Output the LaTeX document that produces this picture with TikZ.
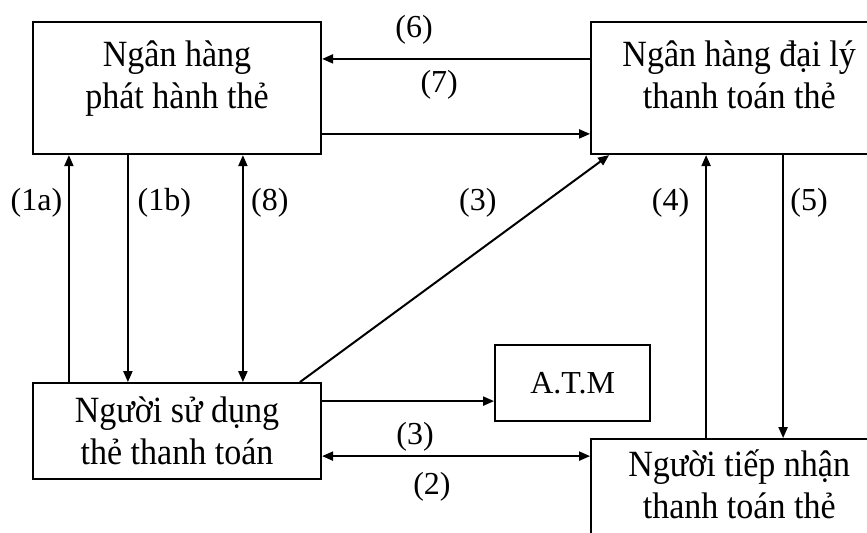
\documentclass[tikz,border=0pt]{standalone}
\usepackage{fontspec}
\setmainfont{Liberation Serif}
\newfontfamily\boxfont[FakeStretch=0.92]{Liberation Serif}
\usetikzlibrary{arrows.meta,positioning}

\newcommand{\lowgap}[1]{\rule[-#1]{0pt}{0pt}}
\setlength{\lineskiplimit}{-20pt}

\begin{document}
\begin{tikzpicture}[x=0.5pt,y=-0.5pt,>={Triangle[length=5.5pt,width=4.5pt]},font=\fontsize{16}{20.5}\selectfont]
	\tikzstyle{box}=[draw, line width=1.1pt, align=center, inner sep=0pt, font=\boxfont\fontsize{18.5}{21}\selectfont]
	\tikzstyle{every edge}=[draw, line width=1pt]
	\useasboundingbox (0,0) rectangle (867,532);
	\node[box, minimum width=144pt, minimum height=66pt](issuer) at (177,88) {Ngân hàng\\phát hành thẻ\lowgap{13.5pt}};
	\node[box, minimum width=148pt, minimum height=66pt](agent)[right=134pt of issuer] {Ngân hàng đại lý\\thanh toán thẻ\lowgap{13.5pt}};
	\node[box, minimum width=144pt, minimum height=48pt](user)[below=113.5pt of issuer] {Người sử dụng\\thẻ thanh toán};
	\node[box, minimum width=77.5pt, minimum height=38pt, font=\fontsize{16}{20.5}\selectfont](atm)[right=86pt of user, yshift=24pt] {A.T.M};
	\node[box, minimum width=148pt, minimum height=50pt](acceptor)[below=141.5pt of agent] {Người tiếp nhận\\thanh toán thẻ\lowgap{5pt}};
	
	\path[->] ([yshift=-19pt]agent.north west) edge node[pos=0.657, yshift=14.5pt]{(6)} ([yshift=-19pt]issuer.north east);
	\path[->] ([yshift=-56.5pt]issuer.north east) edge node[pos=0.437, yshift=24.5pt]{(7)} ([yshift=-56.5pt]agent.north west);
	\path[->] ([xshift=18.5pt]user.north west) edge node[pos=0.789, xshift=-16.25pt]{(1a)} ([xshift=18.5pt]issuer.south west);
	\path[->] ([xshift=48pt]issuer.south west) edge node[pos=0.211, xshift=18.25pt]{(1b)} ([xshift=48pt]user.north west);
	\path[<->] ([xshift=105.5pt]issuer.south west) edge node[pos=0.211, xshift=13.5pt]{(8)} ([xshift=105.5pt]user.north west);
	\path[->] ([xshift=134pt]user.north west) edge node[pos=0.789, xshift=-33pt]{(3)} ([xshift=9.5pt]agent.south west);
	\path[->] ([xshift=58pt]acceptor.north west) edge node[pos=0.830, xshift=-17.75pt]{(4)} ([xshift=58pt]agent.south west);
	\path[->] ([xshift=96.5pt]agent.south west) edge node[pos=0.170, xshift=13pt]{(5)} ([xshift=96.5pt]acceptor.north west);
	\path[->] ([yshift=-9.5pt]user.north east) edge ([yshift=-9.5pt]user.north east -| atm.west);
	\path[<->] ([yshift=-37pt]user.north east) edge node[pos=0.347, yshift=9.5pt]{(3)} node[pos=0.41, yshift=-15.5pt]{(2)} ([yshift=-37pt]user.north east -| acceptor.west);
\end{tikzpicture}
\end{document}
